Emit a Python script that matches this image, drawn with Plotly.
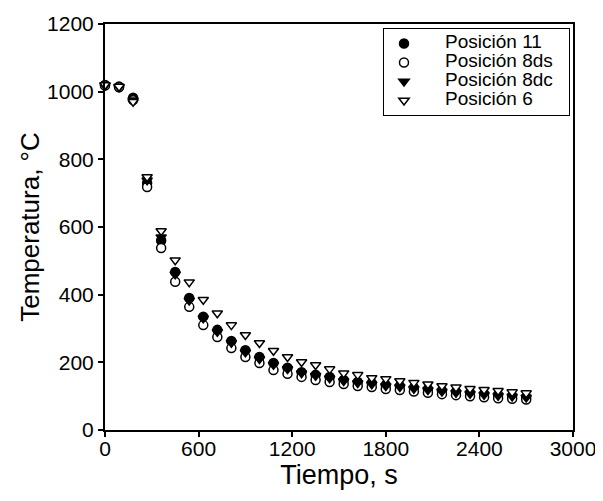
import plotly.graph_objects as go

# Tiempo (s) and temperature readings (°C) for each position
tiempo = [0, 90, 180, 270, 360, 450, 540, 630, 720, 810, 900, 990, 1080, 1170,
          1260, 1350, 1440, 1530, 1620, 1710, 1800, 1890, 1980, 2070, 2160,
          2250, 2340, 2430, 2520, 2610, 2700]

pos_11 = [1020, 1015, 982, 730, 560, 467, 390, 335, 296, 263, 236, 216, 198, 184,
          171, 163, 157, 148, 142, 139, 133, 130, 125, 121, 117, 113, 110, 107,
          104, 101, 98]
pos_8ds = [1018, 1013, 975, 718, 538, 438, 364, 310, 275, 242, 216, 198, 177, 166,
           157, 148, 142, 136, 130, 127, 121, 118, 114, 110, 106, 103, 100, 97,
           94, 92, 90]
pos_8dc = [1018, 1013, 975, 738, 570, 460, 383, 330, 290, 258, 230, 210, 193, 180,
           168, 160, 153, 145, 139, 135, 130, 127, 122, 118, 114, 110, 107, 104,
           101, 99, 96]
pos_6 = [1020, 1015, 970, 748, 588, 502, 437, 385, 345, 310, 281, 257, 234, 216,
         201, 192, 180, 168, 163, 154, 151, 145, 140, 135, 130, 126, 122, 119,
         116, 112, 109]

x_ticks = [0, 600, 1200, 1800, 2400, 3000]
y_ticks = [0, 200, 400, 600, 800, 1000, 1200]

FONT = "Liberation Sans, Arial, sans-serif"

series = [
    ("Posición 11", pos_11, "circle", "black"),
    ("Posición 8ds", pos_8ds, "circle", "white"),
    ("Posición 8dc", pos_8dc, "triangle-down", "black"),
    ("Posición 6", pos_6, "triangle-down", "white"),
]

fig = go.Figure()
for name, values, symbol, fill in series:
    fig.add_trace(go.Scatter(
        x=tiempo,
        y=values,
        mode="markers",
        # larger span text keeps the legend rows tight like the original
        name='<span style="font-size:19px">\u00a0\u00a0\u00a0\u00a0' + name
             + "\u00a0\u00a0</span>",
        cliponaxis=False,
        marker=dict(symbol=symbol, size=9, color=fill,
                    line=dict(color="black", width=1.5)),
    ))

# the page body adds an 8px offset, so margins are trimmed to compensate
fig.update_layout(
    width=603,
    height=501,
    template="plotly_white",
    paper_bgcolor="#ffffff",
    plot_bgcolor="#ffffff",
    font=dict(family=FONT, color="black"),
    margin=dict(l=97, r=38, t=16, b=79),
    showlegend=True,
    legend=dict(
        x=0.594, y=0.99, xanchor="left", yanchor="top",
        bordercolor="black", borderwidth=1,
        bgcolor="white",
        font=dict(size=12, family=FONT, color="black"),
        tracegroupgap=0,
    ),
)

fig.update_xaxes(
    range=[0, 3000],
    tickvals=x_ticks,
    tickfont=dict(size=21),
    ticklabelstandoff=-6,
    title=dict(text="Tiempo, s", font=dict(size=27), standoff=0),
    automargin=False,
    showgrid=False, zeroline=False,
    showline=True, linecolor="black", linewidth=2, mirror=True,
    ticks="outside", ticklen=5, tickwidth=1.5, tickcolor="black",
)
fig.update_yaxes(
    range=[0, 1200],
    tickvals=y_ticks,
    tickfont=dict(size=21),
    title=dict(text="Temperatura, °C", font=dict(size=26), standoff=0),
    automargin=False,
    showgrid=False, zeroline=False,
    showline=True, linecolor="black", linewidth=2, mirror=True,
    ticks="outside", ticklen=5, tickwidth=1.5, tickcolor="black",
)

fig.write_html("out.html")
